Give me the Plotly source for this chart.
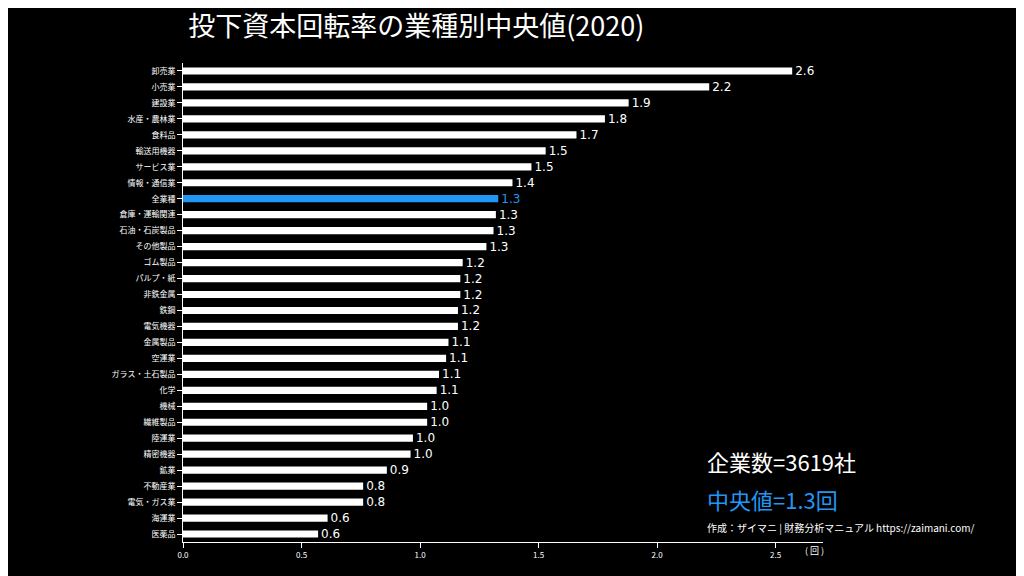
import plotly.graph_objects as go

industries = ["卸売業", "小売業", "建設業", "水産・農林業", "食料品", "輸送用機器", "サービス業",
              "情報・通信業", "全業種", "倉庫・運輸関連", "石油・石炭製品", "その他製品", "ゴム製品",
              "パルプ・紙", "非鉄金属", "鉄鋼", "電気機器", "金属製品", "空運業", "ガラス・土石製品",
              "化学", "機械", "繊維製品", "陸運業", "精密機器", "鉱業", "不動産業", "電気・ガス業",
              "海運業", "医薬品"]
values = [2.57, 2.22, 1.88, 1.78, 1.66, 1.53, 1.47, 1.39, 1.33, 1.32, 1.31, 1.28, 1.18,
          1.17, 1.17, 1.16, 1.16, 1.12, 1.11, 1.08, 1.07, 1.03, 1.03, 0.97, 0.96, 0.86,
          0.76, 0.76, 0.61, 0.57]
x_ticks = [0.0, 0.5, 1.0, 1.5, 2.0, 2.5]
highlight = "全業種"
n_companies = 3619
median_all = 1.3

blue = "#2196f3"
colors = [blue if c == highlight else "white" for c in industries]

fig = go.Figure(go.Bar(
    x=values, y=industries, orientation="h",
    marker=dict(color=colors, line=dict(width=0)),
    text=[f"{v:.1f}" for v in values], textposition="outside",
    textfont=dict(color=colors, size=12, family="DejaVu Sans"),
    constraintext="none", cliponaxis=False,
    width=0.45,
))

fig.update_layout(
    width=1024, height=576,
    paper_bgcolor="black", plot_bgcolor="black",
    font=dict(family="Noto Sans CJK JP", color="white"),
    margin=dict(l=175, r=209, t=55, b=42),
    title=dict(text="投下資本回転率の業種別中央値(2020)", x=0.176, y=0.985,
               xanchor="left", yanchor="top", font=dict(size=27, color="white")),
    xaxis=dict(range=[0, 2.7], tickvals=x_ticks, ticktext=[f"{t:.1f}" for t in x_ticks],
               showgrid=False, zeroline=False, showline=True, linecolor="white",
               ticks="outside", tickcolor="white", tickfont=dict(size=8)),
    yaxis=dict(autorange="reversed", showgrid=False, showline=True, linecolor="white",
               ticks="outside", tickcolor="white", tickfont=dict(size=8),
               range=[len(industries) - 0.5, -0.5]),
    showlegend=False,
)

fig.add_annotation(text=f"企業数={n_companies}社", xref="paper", yref="paper", x=0.816, y=0.17,
                   xanchor="left", yanchor="middle", showarrow=False,
                   font=dict(size=22, color="white"))
fig.add_annotation(text=f"中央値={median_all}回", xref="paper", yref="paper", x=0.816, y=0.09,
                   xanchor="left", yanchor="middle", showarrow=False,
                   font=dict(size=22, color=blue))
fig.add_annotation(text="作成：ザイマニ | 財務分析マニュアル https://zaimani.com/", xref="paper", yref="paper",
                   x=0.816, y=0.03, xanchor="left", yanchor="middle", showarrow=False,
                   font=dict(size=10, color="white"))
fig.add_annotation(text="( 回 )", xref="paper", yref="paper", x=0.986, y=0.0,
                   xanchor="center", yanchor="top", showarrow=False,
                   font=dict(size=9, color="white"))

fig.write_html("out.html")
